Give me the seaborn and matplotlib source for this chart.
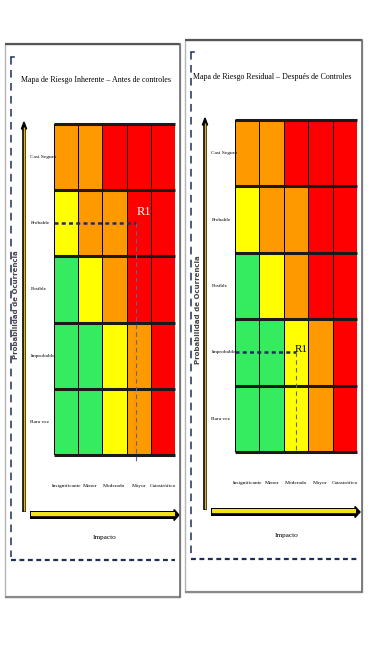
import numpy as np
import pandas as pd
import seaborn as sns
import matplotlib
matplotlib.use("Agg")
import matplotlib.pyplot as plt
from matplotlib.colors import ListedColormap
from matplotlib.patches import Rectangle, Polygon

# ---------------- data ----------------
impact_labels = ["Insignificante", "Menor", "Moderado", "Mayor", "Catastrófico"]
prob_labels = ["Casi Seguro", "Probable", "Posible", "Improbable", "Rara vez"]
# risk level: 0 = bajo (verde), 1 = moderado (amarillo), 2 = alto (naranja), 3 = extremo (rojo)
level_casi_seguro = [2, 2, 3, 3, 3]
level_probable = [1, 2, 2, 3, 3]
level_posible = [0, 1, 2, 3, 3]
level_improbable = [0, 0, 1, 2, 3]
level_rara_vez = [0, 0, 1, 2, 3]
level_colors = ["#35EC60", "#FFFF00", "#FF9900", "#FF0000"]

titles = ["Mapa de Riesgo Inherente – Antes de controles",
          "Mapa de Riesgo Residual – Después de Controles"]
risk_name = "R1"
r1_inherent = ("Probable", "Mayor")
r1_residual = ("Improbable", "Moderado")
y_title = "Probabilidad de Ocurrencia"
x_title = "Impacto"

matrix = pd.DataFrame([level_casi_seguro, level_probable, level_posible,
                       level_improbable, level_rara_vez],
                      index=prob_labels, columns=impact_labels)

# ---------------- figure ----------------
W, H = 376, 645
fig = plt.figure(figsize=(W / 100, H / 100), dpi=100)
fig.patch.set_facecolor("white")

ov = fig.add_axes([0, 0, 1, 1], zorder=0)
ov.set_xlim(0, W)
ov.set_ylim(H, 0)
ov.axis("off")

PX = 0.72  # points per pixel
navy = "#1c2f5a"
serif = "Liberation Serif"


def px_box(x0, y0, x1, y1):
    return [x0 / W, (H - y1) / H, (x1 - x0) / W, (y1 - y0) / H]


def panel(frame, dash, heat, yarrow, harrow, ytxt, xtxt, title_xy, title, r1, r1_style):
    fx0, fy0, fx1, fy1 = frame
    # outer frame
    ov.add_patch(Rectangle((fx0, fy0), fx1 - fx0, fy1 - fy0, fill=False,
                           ec="#b5b5b5", lw=1.0))
    ov.plot([fx0, fx1], [fy0, fy0], color="#555555", lw=1.6, solid_capstyle="butt")
    ov.plot([fx0, fx1], [fy1, fy1], color="#8a8a8a", lw=1.6, solid_capstyle="butt")
    ov.plot([fx1, fx1], [fy0, fy1], color="#6e6e6e", lw=1.2)
    # inner dashed border
    dx, dy0, dy1, dx1 = dash
    ov.plot([dx, dx], [dy0, dy1], color=navy, lw=1.1, dashes=(5, 3.5))
    ov.plot([dx, dx1], [dy1 + 3, dy1 + 3], color=navy, lw=1.6, dashes=(2.2, 1.6))
    ov.plot([dx, dx + 3], [dy0, dy0], color=navy, lw=1.1)
    # title
    ov.text(title_xy[0], title_xy[1], title, ha="center", va="center",
            fontsize=5.7, family=serif, color="black")
    # vertical arrow
    vx, vy0, vy1 = yarrow
    ov.plot([vx, vx], [vy0 + 4, vy1], color="black", lw=2.6, solid_capstyle="butt")
    ov.plot([vx, vx], [vy0 + 4, vy1 - 1], color="#E6B800", lw=1.0, solid_capstyle="butt")
    ov.add_patch(Polygon([[vx - 2.6, vy0 + 6], [vx + 2.6, vy0 + 6], [vx, vy0 - 1]],
                         closed=True, color="black"))
    # horizontal arrow
    hx0, hx1, hy = harrow
    ov.plot([hx0, hx1 - 3], [hy, hy], color="black", lw=8 * PX, solid_capstyle="butt")
    ov.plot([hx0 + 1, hx1 - 3], [hy - 0.8, hy - 0.8], color="#F2E21B", lw=4 * PX,
            solid_capstyle="butt")
    ov.plot([hx0 + 1, hx1 - 3], [hy + 0.6, hy + 0.6], color="#3a2a00", lw=0.9 * PX,
            solid_capstyle="butt")
    ov.add_patch(Polygon([[hx1 - 4, hy - 5.5], [hx1 - 4, hy + 5.5], [hx1 + 1, hy]],
                         closed=True, color="black"))
    # axis titles
    ov.text(ytxt[0], ytxt[1], y_title, rotation=90, ha="center", va="center",
            fontsize=5.0, fontweight="bold", family="DejaVu Sans", color="#444444")
    ov.text(xtxt[0], xtxt[1], x_title, ha="center", va="center",
            fontsize=5.2, family=serif, color="black")

    # heat map
    ax = fig.add_axes(px_box(*heat), zorder=2)
    sns.heatmap(matrix, ax=ax, cmap=ListedColormap(level_colors), vmin=-0.5, vmax=3.5,
                cbar=False, linewidths=0.6, linecolor="black",
                xticklabels=True, yticklabels=True)
    for yy in range(len(prob_labels) + 1):
        ax.axhline(yy, color="#1a1a1a", lw=2.2, solid_capstyle="butt", clip_on=False)
    ax.tick_params(axis="both", length=0)
    ax.tick_params(axis="x", pad=21)
    ax.tick_params(axis="y", pad=17)
    for t in ax.get_xticklabels():
        t.set_rotation(0)
        t.set_fontsize(3.9)
        t.set_family(serif)
    for t in ax.get_yticklabels():
        t.set_rotation(0)
        t.set_fontsize(3.9)
        t.set_family(serif)
        t.set_horizontalalignment("left")
    ax.set_xlabel("")
    ax.set_ylabel("")

    # risk marker
    row = prob_labels.index(r1[0]) + 0.5
    col_x, txt_xy, txt_color, txt_size, vend = r1_style
    ax.plot([0, col_x], [row, row], color=navy, lw=1.8, dashes=(1.6, 1.3),
            clip_on=False, zorder=5)
    ax.plot([col_x, col_x], [row, vend], color="#5a6a8a", lw=0.8, dashes=(4, 3),
            clip_on=False, zorder=5)
    ax.text(txt_xy[0], txt_xy[1], risk_name, ha="center", va="center",
            fontsize=txt_size, family=serif, color=txt_color, zorder=6)
    return ax


panel(frame=(5, 44, 180, 597), dash=(11, 57, 557, 175),
      heat=(54, 124, 175, 455), yarrow=(24, 123, 512), harrow=(30, 178, 515),
      ytxt=(16, 305), xtxt=(105, 537), title_xy=(96, 80), title=titles[0],
      r1=r1_inherent, r1_style=(3.4, (3.72, 1.33), "white", 9, 5.1))

panel(frame=(185, 40, 362, 592), dash=(191, 52, 556, 357),
      heat=(235, 120, 357, 452), yarrow=(205, 119, 510), harrow=(211, 359, 512),
      ytxt=(198, 310), xtxt=(287, 535), title_xy=(272, 77), title=titles[1],
      r1=r1_residual, r1_style=(2.5, (2.72, 3.45), "black", 8, 5.0))

fig.savefig("out.png", dpi=100, facecolor="white")
